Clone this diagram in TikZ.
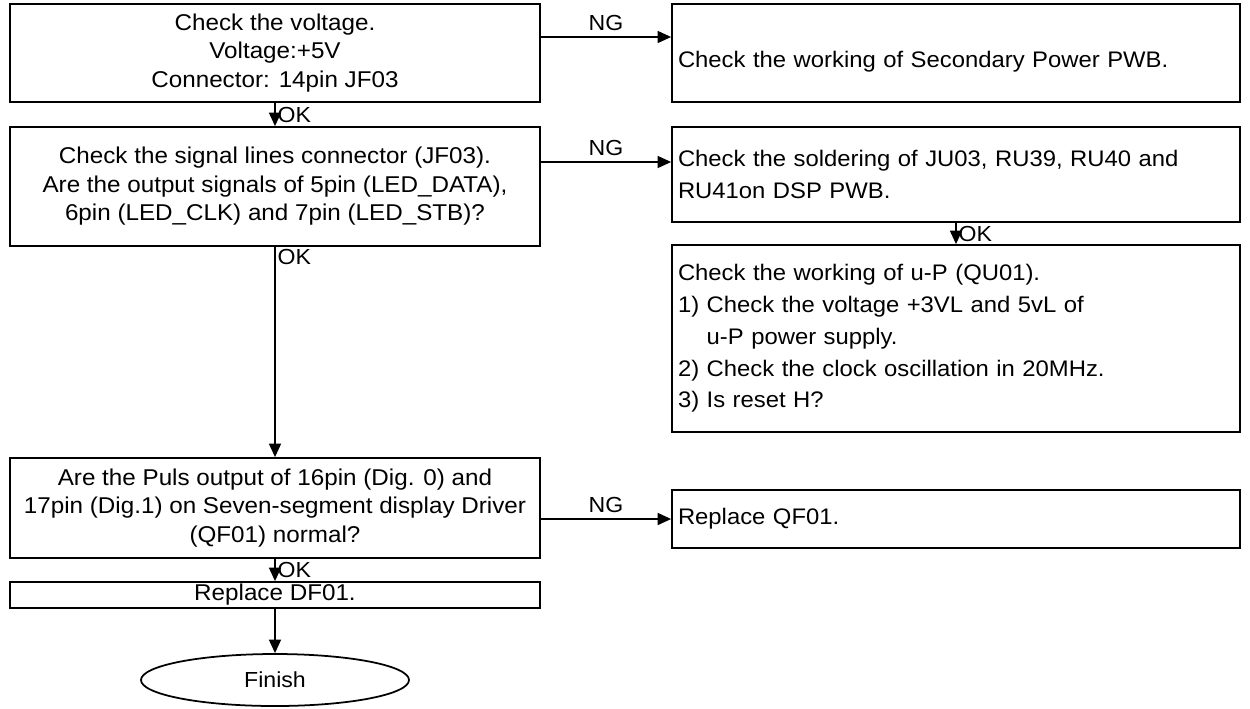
\documentclass[tikz,border=0pt]{standalone}
\usepackage{fontspec}
\setmainfont{Liberation Sans}[FakeStretch=1.06]
\usetikzlibrary{arrows.meta,shapes.geometric}

\begin{document}
\begin{tikzpicture}[
  font=\fontsize{12.4}{15}\selectfont,
  arrow/.style={-{Triangle[length=2.7mm,width=2.4mm]}, line width=0.9pt},
  box/.style={draw, line width=1pt, minimum width=10.6cm, align=center, inner sep=0pt,
    font=\fontsize{13}{16.2}\selectfont},
  rbox/.style={draw, line width=1pt, minimum width=11.36cm, text width=11.12cm, align=left,
    inner xsep=0.12cm, inner ysep=0pt, font=\fontsize{12.8}{18.1}\selectfont},
  finish/.style={draw, ellipse, line width=1pt, minimum width=5.36cm, minimum height=1.04cm},
  tag/.style={inner sep=1pt}
]
\useasboundingbox (0,0) rectangle (25,-14.16);

% Left column
\node[box, minimum height=1.96cm] (b1) at (5.5,-1.06)
  {Check the voltage.\\Voltage:+5V\\Connector: 14pin JF03};
\node[box, minimum height=2.38cm] (b3) at (5.5,-3.73)
  {Check the signal lines connector (JF03).\\Are the output signals of 5pin (LED\_DATA),\\6pin (LED\_CLK) and 7pin (LED\_STB)?};
\node[box, minimum height=2.0cm] (b6) at (5.5,-10.16)
  {Are the Puls output of 16pin (Dig. 0) and\\17pin (Dig.1) on Seven-segment display Driver\\(QF01) normal?};
\node[box, minimum height=0.52cm] (b8) at (5.5,-11.9) {Replace DF01.};
\node[finish] (fin) at (5.5,-13.6) {Finish};

% Right column
\node[rbox, minimum height=1.96cm, text height=19.5pt, text depth=2.7pt] (b2) at (19.12,-1.06)
  {Check the working of Secondary Power PWB.};
\node[rbox, minimum height=1.9cm] (b4) at (19.12,-3.49)
  {Check the soldering of JU03, RU39, RU40 and\\RU41on DSP PWB.};
\node[rbox, minimum height=3.74cm] (b5) at (19.12,-6.77)
  {Check the working of u-P (QU01).\\1) Check the voltage +3VL and 5vL of\\\phantom{1) }u-P power supply.\\2) Check the clock oscillation in 20MHz.\\3) Is reset H?};
\node[rbox, minimum height=1.16cm] (b7) at (19.12,-10.38) {Replace QF01.};

% OK flow
\draw[arrow] (b1.south) -- node[tag, right] {OK} (b3.north);
\draw[arrow] (b3.south) -- node[tag, anchor=north west, pos=0] {OK} (b6.north);
\draw[arrow] (b6.south) -- node[tag, right] {OK} (b8.north);
\draw[arrow] (b8.south) -- (fin.north);
\draw[arrow] (b4.south) -- node[tag, right] {OK} (b5.north);

% NG flow
\draw[arrow] ([yshift=0.32cm]b1.east) -- node[above] {NG} ([yshift=0.32cm]b2.west);
\coordinate (n2) at ([yshift=0.25cm]b4.west);
\draw[arrow] (n2 -| b3.east) -- node[above] {NG} (n2);
\draw[arrow] (b7.west -| b6.east) -- node[above] {NG} (b7.west);

\end{tikzpicture}
\end{document}
